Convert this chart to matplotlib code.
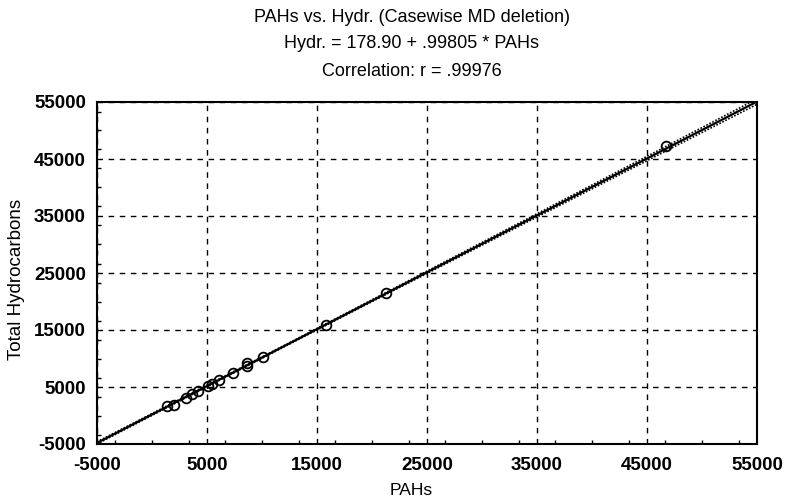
import numpy as np
import matplotlib.pyplot as plt
from matplotlib.ticker import MultipleLocator

# values
pahs = [1336, 2027, 3064, 3609, 4155, 5064, 5427, 6118, 7391, 8609, 8664,
        10118, 15818, 21273, 46727]
hydr = [1740, 1900, 3150, 3700, 4250, 5150, 5500, 6250, 7450, 8600, 9250,
        10200, 15950, 21450, 47200]

intercept = 178.90
slope = 0.99805
ticks = [-5000, 5000, 15000, 25000, 35000, 45000, 55000]

plt.rcParams['font.family'] = ['Liberation Sans', 'DejaVu Sans']
plt.rcParams['axes.unicode_minus'] = False

x = np.array(pahs, dtype=float)
y = np.array(hydr, dtype=float)
n = len(x)

# regression line and 95% confidence band
xs = np.linspace(-5000, 55000, 300)
ys = intercept + slope * xs
resid = y - (intercept + slope * x)
s = np.sqrt(np.sum(resid ** 2) / (n - 2))
sxx = np.sum((x - x.mean()) ** 2)
half = 2.16 * s * np.sqrt(1.0 / n + (xs - x.mean()) ** 2 / sxx)

fig = plt.figure(figsize=(7.85, 5.03), dpi=100)
ax = fig.add_axes([97 / 785, 1 - 444 / 503, 660 / 785, 342 / 503])

ax.plot(xs, ys, color='black', lw=1.6)
ax.plot(xs, ys + half, color='black', lw=1.2, ls=(0, (1, 1)))
ax.plot(xs, ys - half, color='black', lw=1.2, ls=(0, (1, 1)))
ax.plot(x, y, 'o', mfc='none', mec='black', ms=7, mew=1.3)

ax.set_xlim(-5000, 55000)
ax.set_ylim(-5000, 55000)
ax.set_xticks(ticks)
ax.set_yticks(ticks)
ax.xaxis.set_minor_locator(MultipleLocator(10000 / 3))
ax.yaxis.set_minor_locator(MultipleLocator(10000 / 3))
ax.tick_params(which='major', length=0, labelsize=13.5)
ax.tick_params(axis='x', which='major', pad=9)
ax.tick_params(axis='y', which='major', pad=8)
ax.tick_params(which='minor', direction='in', length=3, width=1)
for lab in ax.get_xticklabels() + ax.get_yticklabels():
    lab.set_fontweight('bold')

ax.grid(True, which='major', color='black', ls=(0, (4, 4)), lw=1)
for sp in ax.spines.values():
    sp.set_linewidth(1.5)

ax.set_xlabel('PAHs', fontsize=12.5)
ax.xaxis.set_label_coords((411 - 97) / 660, -(483 - 444) / 342)
ax.set_ylabel('Total Hydrocarbons', fontsize=13.5)
ax.yaxis.set_label_coords(-(97 - 25) / 660, 0.48)

fig.text(412 / 785, 1 - 17 / 503, 'PAHs vs. Hydr. (Casewise MD deletion)',
         ha='center', va='center', fontsize=13)
fig.text(412 / 785, 1 - 44 / 503, 'Hydr. = 178.90 + .99805 * PAHs',
         ha='center', va='center', fontsize=13)
fig.text(412 / 785, 1 - 71 / 503, 'Correlation: r = .99976',
         ha='center', va='center', fontsize=13)

fig.savefig('out.png', dpi=100)
